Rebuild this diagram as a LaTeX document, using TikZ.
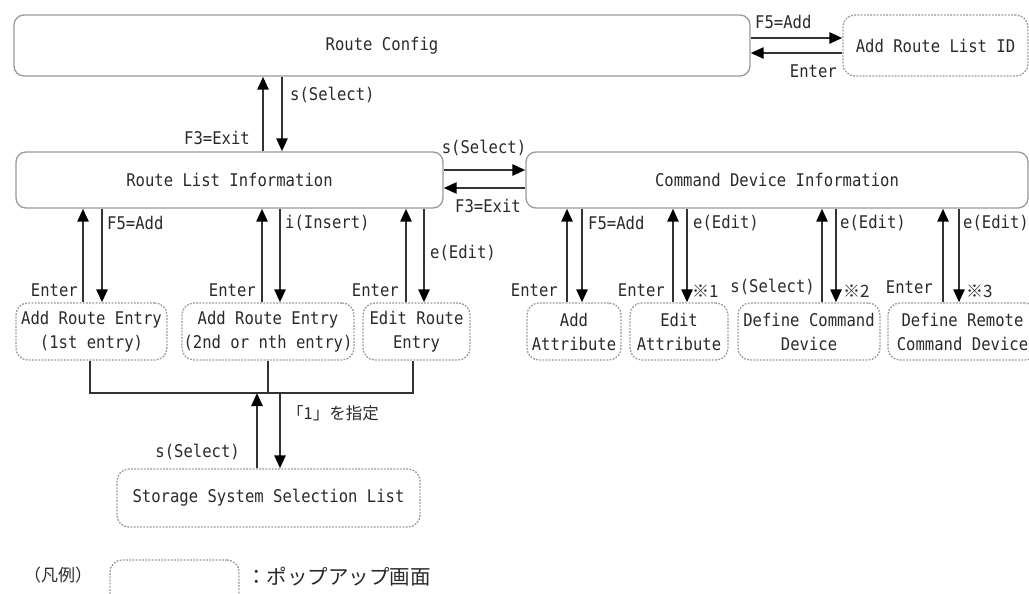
\documentclass[tikz,border=0pt]{standalone}
\usepackage{fontspec}
\setmainfont[FakeStretch=0.89]{DejaVu Sans Mono}
\newfontfamily\jp{Noto Sans CJK JP}
\usetikzlibrary{arrows.meta}
\definecolor{txt}{HTML}{2A2A2A}
\definecolor{boxgray}{HTML}{9A9A9A}
\definecolor{popgray}{HTML}{999999}
\definecolor{linegray}{HTML}{333333}
\begin{document}
\begin{tikzpicture}[x=1pt,y=-1pt,
  every node/.style={font=\fontsize{17.5}{24}\selectfont, text=txt, inner sep=0pt, align=center},
  solidbox/.style={draw=boxgray, line width=1.3pt, rounded corners=10pt},
  popbox/.style={draw=popgray, line width=1.3pt, dash pattern=on 1.8pt off 1.4pt, rounded corners=12pt},
  arr/.style={draw=linegray, line width=2.6pt, -{Triangle[length=13pt,width=11pt,color=black]}},
  plain/.style={draw=linegray, line width=2.6pt},
  jps/.style={font=\jp\fontsize{16.5}{18}\selectfont},
  marks/.style={font=\jp\fontsize{17}{18}\selectfont}
]
\useasboundingbox (0,0) rectangle (1029,594);
\clip (0,0) rectangle (1029,594);

% boxes
\node[solidbox, minimum width=736pt, minimum height=61pt] (rc) at (382,45.5) {Route Config};
\node[popbox, minimum width=185pt, minimum height=61pt] (arl) at (935.5,45.5) {Add Route List ID};
\node[solidbox, minimum width=427pt, minimum height=56pt] (rli) at (229.5,180) {Route List Information};
\node[solidbox, minimum width=502pt, minimum height=56pt] (cdi) at (777,180) {Command Device Information};
\node[popbox, minimum width=151pt, minimum height=57pt] (are1) at (91.5,331.5) {Add Route Entry\\(1st entry)};
\node[popbox, minimum width=172pt, minimum height=57pt] (are2) at (268,331.5) {Add Route Entry\\(2nd or nth entry)};
\node[popbox, minimum width=107pt, minimum height=57pt] (ere) at (416.5,331.5) {Edit Route\\Entry};
\node[popbox, minimum width=94pt, minimum height=57pt] (aa) at (574,331.5) {Add\\Attribute};
\node[popbox, minimum width=98pt, minimum height=57pt] (ea) at (679,331.5) {Edit\\Attribute};
\node[popbox, minimum width=142pt, minimum height=57pt] (dcd) at (809,331.5) {Define Command\\Device};
\node[popbox, minimum width=149pt, minimum height=57pt] (drcd) at (962.5,331.5) {Define Remote\\Command Device};
\node[popbox, minimum width=303pt, minimum height=58pt] (ssl) at (268.5,498) {Storage System Selection List};
\node[popbox, minimum width=129pt, minimum height=60pt] (leg) at (174.5,590) {};

% Route Config <-> Add Route List ID
\draw[arr] (rc.east |- 0,38) -- (arl.west |- 0,38);
\draw[arr] (arl.west |- 0,53) -- (rc.east |- 0,53);
\node[anchor=west] (l1) at (755,22) {F5=Add};
\node[anchor=east] (l2) at (837,71) {Enter};

% Route Config <-> Route List Information
\draw[arr] (rli.north -| 263,0) -- (rc.south -| 263,0);
\draw[arr] (rc.south -| 282,0) -- (rli.north -| 282,0);
\node[anchor=west] (l3) at (290,95) {s(Select)};
\node[anchor=east] (l4) at (250,138) {F3=Exit};

% Route List Information <-> Command Device Information
\draw[arr] (rli.east |- 0,170) -- (cdi.west |- 0,170);
\draw[arr] (cdi.west |- 0,188) -- (rli.east |- 0,188);
\node (l5) at (484,148) {s(Select)};
\node (l6) at (488,206) {F3=Exit};

% Route List Information children
\draw[arr] (are1.north -| 83,0) -- (rli.south -| 83,0);
\draw[arr] (rli.south -| 102,0) -- (are1.north -| 102,0);
\node[anchor=west] (l7) at (107,223) {F5=Add};
\node[anchor=east] (l8) at (78,290) {Enter};

\draw[arr] (are2.north -| 262,0) -- (rli.south -| 262,0);
\draw[arr] (rli.south -| 280,0) -- (are2.north -| 280,0);
\node[anchor=west] (l9) at (285,223) {i(Insert)};
\node[anchor=east] (l10) at (256,290) {Enter};

\draw[arr] (ere.north -| 406,0) -- (rli.south -| 406,0);
\draw[arr] (rli.south -| 424,0) -- (ere.north -| 424,0);
\node[anchor=west] (l11) at (430,253) {e(Edit)};
\node[anchor=east] (l12) at (399,290) {Enter};

% Command Device Information children
\draw[arr] (aa.north -| 567,0) -- (cdi.south -| 567,0);
\draw[arr] (cdi.south -| 582,0) -- (aa.north -| 582,0);
\node[anchor=west] (l13) at (588,223) {F5=Add};
\node[anchor=east] (l14) at (558,290) {Enter};

\draw[arr] (ea.north -| 673,0) -- (cdi.south -| 673,0);
\draw[arr] (cdi.south -| 687,0) -- (ea.north -| 687,0);
\node[anchor=west] (l15) at (693,223) {e(Edit)};
\node[anchor=east] (l16) at (665,290) {Enter};
\node[anchor=west, marks] (n1) at (692,291) {※1};

\draw[arr] (dcd.north -| 822,0) -- (cdi.south -| 822,0);
\draw[arr] (cdi.south -| 836,0) -- (dcd.north -| 836,0);
\node[anchor=west] (l17) at (840,223) {e(Edit)};
\node[anchor=east] (l18) at (815,287) {s(Select)};
\node[anchor=west, marks] (n2) at (843,291) {※2};

\draw[arr] (drcd.north -| 943,0) -- (cdi.south -| 943,0);
\draw[arr] (cdi.south -| 959,0) -- (drcd.north -| 959,0);
\node[anchor=west] (l19) at (963,223) {e(Edit)};
\node[anchor=east] (l20) at (933,287) {Enter};
\node[anchor=west, marks] (n3) at (966,291) {※3};

% join of route entry screens
\coordinate (j1) at (90,393);
\coordinate (j2) at (268,393);
\coordinate (j3) at (413,393);
\draw[plain] (are1.south -| j1) -- (j1) -- (j3) -- (ere.south -| j3);
\draw[plain] (are2.south -| j2) -- (j2);
\draw[arr] (ssl.north -| 257,0) -- (j1 -| 257,0);
\draw[arr] (j1 -| 280,0) -- (ssl.north -| 280,0);
\node[anchor=west, jps] (l21) at (287,413) {「1」を指定};
\node[anchor=east] (l22) at (240,452) {s(Select)};

% legend
\node[anchor=west, font=\jp\fontsize{17}{18}\selectfont] (lg1) at (24,575) {（凡例）};
\node[anchor=west, font=\jp\fontsize{20.5}{22}\selectfont] (lg2) at (246,577) {：ポップアップ画面};
\end{tikzpicture}
\end{document}
